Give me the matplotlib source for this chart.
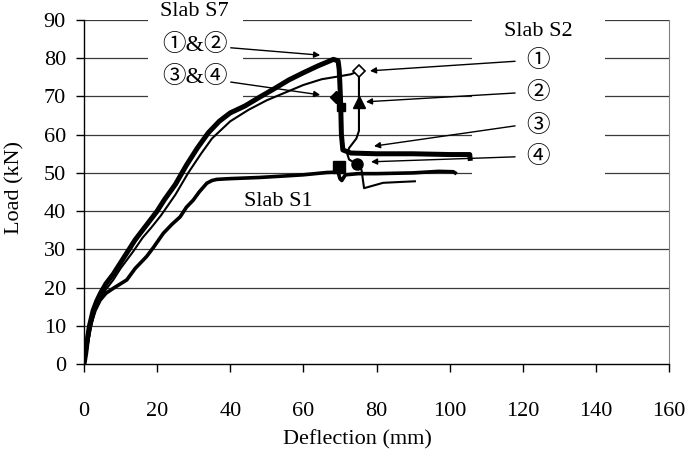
import matplotlib
matplotlib.use("Agg")
import matplotlib.pyplot as plt
from matplotlib.patches import Rectangle

plt.rcParams['font.family'] = ['Liberation Serif', 'Noto Sans CJK JP', 'DejaVu Sans']

# ---- data (deflection mm, load kN) ----
s7_x = [0, 0.5, 1, 1.5, 2.5, 3.5, 4.5, 6, 8, 10, 12, 14, 16, 18, 20, 22, 25, 28, 31, 34, 37, 40,
        44, 48, 52, 56, 60, 64, 66.5, 68.2, 69.5, 69.8, 70, 70.2, 70.4, 70.8, 73, 80, 90, 100, 105.5, 105.6]
s7_y = [0, 3, 7, 10, 14, 16.5, 18.5, 21, 23.5, 26.5, 29.5, 32.5, 35, 37.5, 40, 43, 47, 52, 56.5, 60.5, 63.5, 65.7,
        67.5, 69.8, 72, 74.3, 76.2, 78, 79, 79.7, 79.3, 77, 73, 68, 60, 56, 55.2, 55, 55, 54.8, 54.8, 53.8]

s2_x = [0, 0.5, 1, 2, 3, 4.5, 6, 8, 10, 13.5, 16, 18.5, 21, 25, 28.5, 32, 35, 40, 45, 50, 55, 60, 65, 70, 73,
        75.2, 75.2, 75.2, 74.5, 72.5, 72, 72.5, 74.6, 75.9, 76.6, 81.8, 86, 90.5]
s2_y = [0, 2, 5, 10, 14, 17, 19.5, 22, 25, 29.5, 33, 35.8, 38.8, 44.3, 50, 55, 59, 63.5, 66.5, 69, 71, 73, 74.5, 75.3, 75.8,
        76.7, 68.6, 61, 59, 56.5, 55, 53.5, 52.3, 50.8, 46, 47.4, 47.6, 47.8]

s1_x = [0, 0.5, 1, 1.5, 2, 3, 4.4, 6, 8, 11.7, 14, 17.1, 19, 21.7, 24, 26.3, 28, 29.9, 31.5, 33.6, 35, 36.3,
        40, 48, 55, 60, 66.4, 69.5, 70, 70.5, 71.5, 75, 80, 90, 97, 101, 101.5]
s1_y = [0, 3, 6, 9, 11, 14, 16.7, 18.5, 19.8, 22, 25, 28.1, 30.5, 34.2, 36.5, 38.5, 41, 42.9, 45, 47.3, 48, 48.3,
        48.5, 48.8, 49.2, 49.5, 50.1, 50.2, 48.5, 48, 49.5, 49.8, 49.8, 50, 50.4, 50.3, 50]

# event markers
s2_ev_x = [75.2, 75.2, 74.6]
s2_ev_y = [76.7, 68.6, 52.3]
s7_ev_x = [68.8, 70.2]
s7_ev_y = [69.8, 67.2]
s1_ev_x = [69.7]
s1_ev_y = [51.5]

x_ticks = [0, 20, 40, 60, 80, 100, 120, 140, 160]
y_ticks = [0, 10, 20, 30, 40, 50, 60, 70, 80, 90]

W, H = 689, 461
fig = plt.figure(figsize=(W / 100, H / 100), dpi=100)
ax = fig.add_axes([84 / W, 1 - 364 / H, (669 - 84) / W, (364 - 20) / H])
ax.set_xlim(0, 160)
ax.set_ylim(0, 90)

for yv in y_ticks[1:]:
    ax.axhline(yv, color='#3a3a3a', lw=0.9, zorder=1)

# white text boxes covering gridlines
ax.add_patch(Rectangle((17.5, 66), 26, 27, facecolor='white', edgecolor='none', zorder=2, clip_on=False))
ax.add_patch(Rectangle((106.1, 48), 36.4, 45, facecolor='white', edgecolor='none', zorder=2, clip_on=False))

ax.plot(s1_x, s1_y, color='black', lw=2.6, zorder=4, solid_joinstyle='round')
ax.plot(s2_x, s2_y, color='black', lw=1.5, zorder=5, solid_joinstyle='round')
ax.plot(s7_x, s7_y, color='black', lw=3.6, zorder=4, solid_joinstyle='round')

ax.plot(s2_ev_x[0], s2_ev_y[0], marker='D', ms=6, mfc='white', mec='black', mew=1.2, zorder=6)
ax.plot(s2_ev_x[1], s2_ev_y[1], marker='^', ms=9, color='black', zorder=6)
ax.plot(s2_ev_x[2], s2_ev_y[2], marker='o', ms=8, color='black', zorder=6)
ax.plot(s7_ev_x[0], s7_ev_y[0], marker='D', ms=6, color='black', zorder=6)
ax.plot(s7_ev_x[1], s7_ev_y[1], marker='s', ms=6, color='black', zorder=6)
ax.plot(s1_ev_x, s1_ev_y, marker='s', ms=9, color='black', ls='none', zorder=6)

fs = 16
txt = dict(fontsize=fs, ha='center', va='center', zorder=7, annotation_clip=False)
ctxt = dict(txt, fontsize=17)
arr = dict(arrowstyle='-|>', color='black', lw=1.0, mutation_scale=9, shrinkA=0, shrinkB=0)

ax.annotate('Slab S7', xy=(30.1, 92.1), **txt)
ax.annotate('①&②', xy=(64.6, 80.8), xytext=(30.4, 83.5), arrowprops=arr, **ctxt)
ax.annotate('③&④', xy=(64.6, 70.4), xytext=(30.4, 75.1), arrowprops=arr, **ctxt)
ax.annotate('Slab S1', xy=(53.1, 42.6), **txt)
ax.annotate('Slab S2', xy=(124.2, 86.9), **txt)

for lab, ty, hx, hy in [('①', 79.2, 78.2, 76.7), ('②', 70.9, 77.1, 68.6),
                        ('③', 62.3, 79.3, 57.0), ('④', 54.2, 78.5, 52.9)]:
    ax.annotate(lab, xy=(124.2, ty), **ctxt)
    ax.annotate('', xy=(hx, hy), xytext=(117.9, ty), arrowprops=arr, annotation_clip=False, zorder=7)

ax.set_xticks(x_ticks)
ax.set_yticks(y_ticks)
ax.tick_params(axis='both', direction='out', length=6, width=1, labelsize=16, color='black')
ax.tick_params(axis='x', pad=21)
ax.tick_params(axis='y', pad=7)
ax.spines['top'].set_visible(False)
ax.spines['right'].set_color('#808080')
ax.spines['left'].set_linewidth(1)
ax.spines['bottom'].set_linewidth(1)

fig.text(15 / W, 1 - 187 / H, 'Load (kN)', rotation=90, ha='center', va='center', fontsize=fs)
fig.text(357 / W, 1 - 440 / H, 'Deflection (mm)', ha='center', va='center', fontsize=fs)

fig.savefig('out.png', dpi=100)
